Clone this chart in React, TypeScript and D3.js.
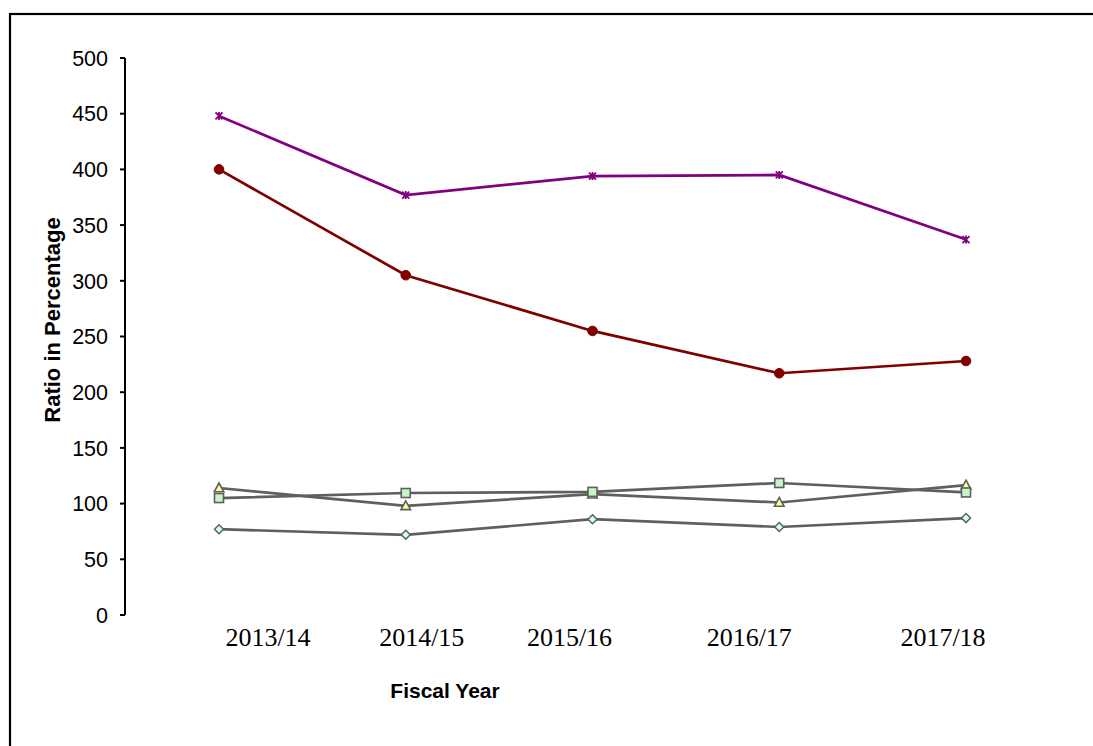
import React from "react";
import * as d3 from "d3";

const categories = ["2013/14", "2014/15", "2015/16", "2016/17", "2017/18"];
const purpleStar = [448, 377, 394, 395, 337];
const redCircle = [400, 305, 255, 217, 228];
const greenSquare = [105, 109.5, 110.5, 118.5, 110];
const yellowTriangle = [114, 98, 108.5, 101, 116.5];
const cyanDiamond = [77, 72, 86, 79, 87];
const yTicks = [0, 50, 100, 150, 200, 250, 300, 350, 400, 450, 500];

// layout offsets of the category labels relative to their points (as drawn in the source)
const labelDx = [49, 16, -23, -30, -23];

const W = 1093;
const H = 746;

export default function App() {
  const x = d3.scalePoint<string>().domain(categories).range([219, 966]);
  const y = d3.scaleLinear().domain([0, 500]).range([615, 58]);
  const line = d3
    .line<number>()
    .x((_, i) => x(categories[i]) as number)
    .y((d) => y(d));

  const grey = "#5f5f5f";
  const series = [
    { values: cyanDiamond, color: grey, marker: "diamond", fill: "#ccffff" },
    { values: yellowTriangle, color: grey, marker: "triangle", fill: "#ffff99" },
    { values: greenSquare, color: grey, marker: "square", fill: "#c8f5c8" },
    { values: redCircle, color: "#800000", marker: "circle", fill: "#800000" },
    { values: purpleStar, color: "#800080", marker: "star", fill: "none" },
  ];

  const marker = (type: string, cx: number, cy: number, color: string, fill: string, key: string) => {
    switch (type) {
      case "circle":
        return <circle key={key} cx={cx} cy={cy} r={4.8} fill={fill} stroke={color} strokeWidth={1} />;
      case "square":
        return <rect key={key} x={cx - 4.5} y={cy - 4.5} width={9} height={9} fill={fill} stroke={color} strokeWidth={1.6} />;
      case "triangle":
        return (
          <path
            key={key}
            d={`M${cx},${cy - 5} L${cx + 4.8},${cy + 3.8} L${cx - 4.8},${cy + 3.8} Z`}
            fill={fill}
            stroke={color}
            strokeWidth={1.6}
          />
        );
      case "diamond":
        return (
          <path
            key={key}
            d={`M${cx},${cy - 4.5} L${cx + 4.5},${cy} L${cx},${cy + 4.5} L${cx - 4.5},${cy} Z`}
            fill={fill}
            stroke={color}
            strokeWidth={1.5}
          />
        );
      case "star":
        return (
          <path
            key={key}
            d={`M${cx - 3.5},${cy - 3.5} L${cx + 3.5},${cy + 3.5} M${cx + 3.5},${cy - 3.5} L${cx - 3.5},${cy + 3.5} M${cx},${cy - 4} L${cx},${cy + 4}`}
            fill="none"
            stroke={color}
            strokeWidth={1.8}
          />
        );
      default:
        return null;
    }
  };

  return (
    <div style={{ position: "absolute", left: 0, top: 0 }}>
      <svg width={W} height={H} style={{ display: "block", background: "#fff" }}>
        {/* chart border */}
        <rect x={10} y={14} width={W + 20} height={H + 20} fill="none" stroke="#000" strokeWidth={2.2} />

        {/* y axis */}
        <line x1={125} x2={125} y1={y(500)} y2={y(0)} stroke="#000" strokeWidth={2} />
        {yTicks.map((t) => (
          <g key={t}>
            <line x1={120} x2={125} y1={y(t)} y2={y(t)} stroke="#000" strokeWidth={2} />
            <text
              x={108}
              y={y(t)}
              dy="0.36em"
              textAnchor="end"
              fontFamily="Liberation Sans, Arial, sans-serif"
              fontSize={21.5}
              fill="#000"
            >
              {t}
            </text>
          </g>
        ))}

        {/* x labels */}
        {categories.map((c, i) => (
          <text
            key={c}
            x={(x(c) as number) + labelDx[i]}
            y={646}
            textAnchor="middle"
            fontFamily="Liberation Serif, 'Times New Roman', serif"
            fontSize={26}
            fill="#000"
          >
            {c}
          </text>
        ))}

        {/* axis titles */}
        <text
          x={445}
          y={698}
          textAnchor="middle"
          fontFamily="Liberation Sans, Arial, sans-serif"
          fontWeight="bold"
          fontSize={21}
          fill="#000"
        >
          Fiscal Year
        </text>
        <text
          transform={`translate(60,320) rotate(-90)`}
          textAnchor="middle"
          fontFamily="Liberation Sans, Arial, sans-serif"
          fontWeight="bold"
          fontSize={22}
          fill="#000"
        >
          Ratio in Percentage
        </text>

        {/* series */}
        {series.map((s, si) => (
          <g key={si}>
            <path d={line(s.values) as string} fill="none" stroke={s.color} strokeWidth={2.7} />
            {s.values.map((v, i) =>
              marker(s.marker, x(categories[i]) as number, y(v), s.color, s.fill, `${si}-${i}`)
            )}
          </g>
        ))}
      </svg>
    </div>
  );
}
